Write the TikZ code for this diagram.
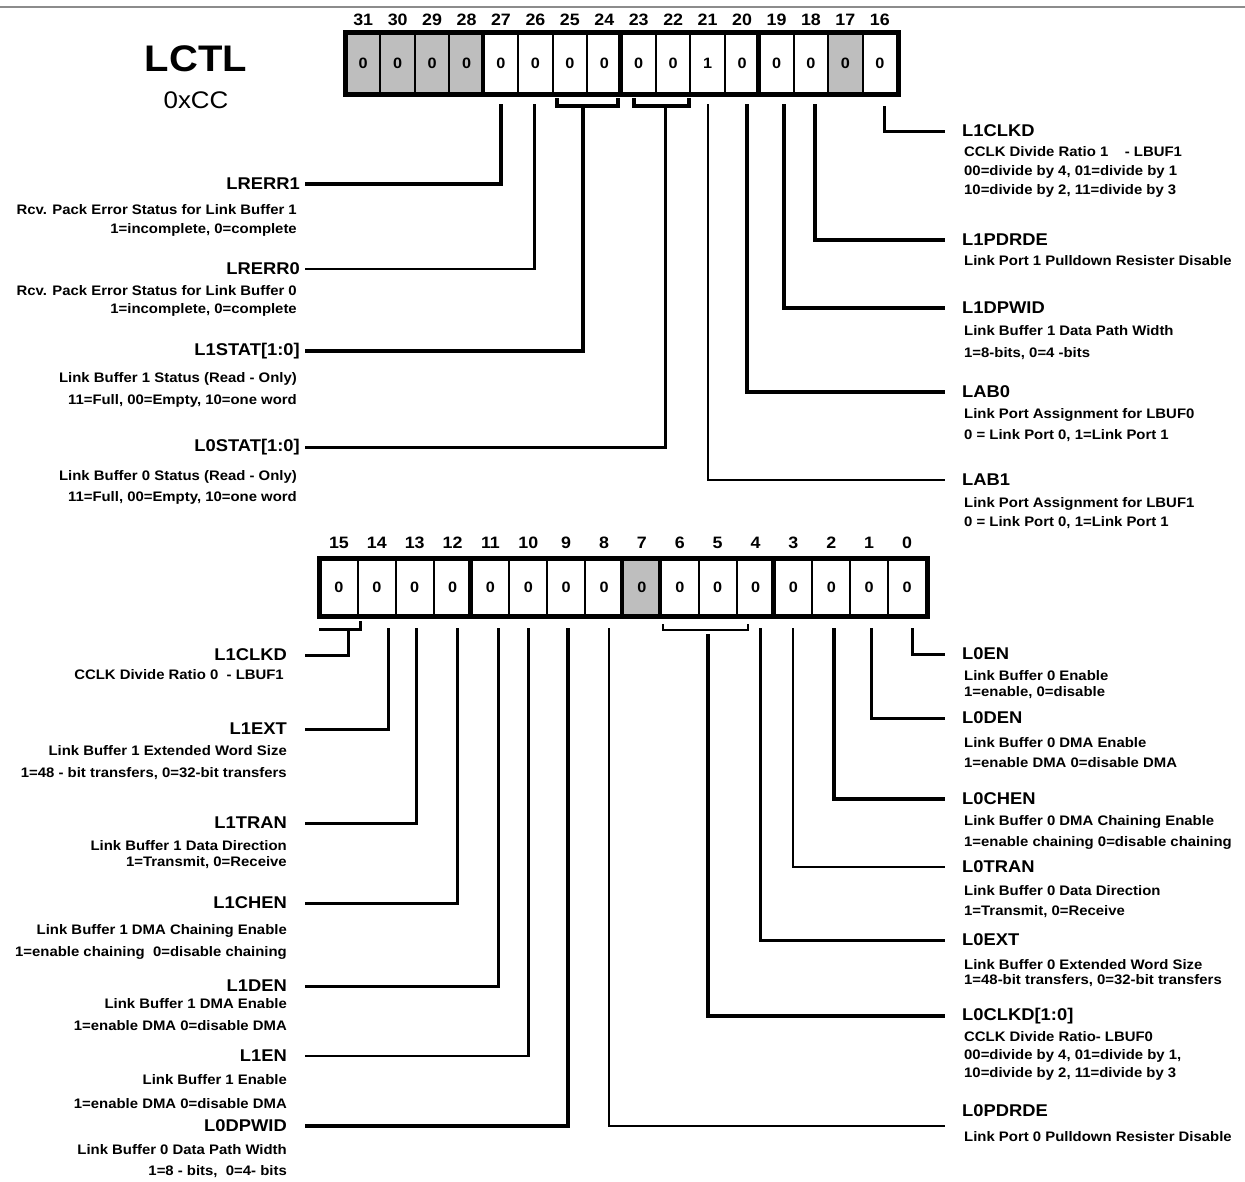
\documentclass[tikz,border=0pt]{standalone}
\usepackage{fontspec}
\setmainfont[FakeStretch=1.08]{Liberation Sans}
\definecolor{cellgray}{RGB}{190,190,190}
\definecolor{rulegray}{RGB}{140,140,140}
\tikzset{
  bitcell/.style={draw, line width=2pt, inner sep=0pt, font=\fontsize{15}{15}\selectfont\bfseries},
  bitnum/.style={inner sep=0pt, font=\fontsize{16.5}{16.5}\selectfont\bfseries},
  regframe/.style={line width=5pt},
  groupline/.style={line width=4.5pt},
  fieldL/.style={anchor=east, inner xsep=#1, inner ysep=0pt, font=\fontsize{17}{17}\selectfont\bfseries},
  fieldL/.default=5pt,
  fieldR/.style={anchor=west, inner xsep=17pt, inner ysep=0pt, font=\fontsize{17}{17}\selectfont\bfseries},
  descL/.style={anchor=north east, align=right, inner sep=0pt, font=\fontsize{13.8}{#1}\selectfont\bfseries},
  descL/.default=20pt,
  descR/.style={anchor=north west, align=left, inner sep=0pt, font=\fontsize{13.8}{#1}\selectfont\bfseries},
  descR/.default=20pt,
  wire/.style={line width=#1},
  wire/.default=2.5pt
}
\begin{document}
\begin{tikzpicture}[x=1pt, y=-1pt]
  \useasboundingbox (0,0) rectangle (1245,1181);
  % rule along the top edge
  \draw[rulegray, line width=1.5pt] (0,7) -- (1245,7);
  % register name
  \node[font=\fontsize{37}{37}\selectfont\bfseries] (lctl) at (196,59) {LCTL};
  \node[font=\fontsize{24}{24}\selectfont] (addr) at (196,100) {0xCC};

  % upper register, bits 31..16
  \foreach \b/\v/\f in {31/0/cellgray,30/0/cellgray,29/0/cellgray,28/0/cellgray,
      27/0/white,26/0/white,25/0/white,24/0/white,23/0/white,22/0/white,21/1/white,
      20/0/white,19/0/white,18/0/white,17/0/cellgray,16/0/white}{
    \node[bitcell, fill=\f, minimum width=34.44pt, minimum height=60pt]
      (t\b) at ({346+34.44*(31-\b)+17.22},63) {\v};
    \node[bitnum] (tn\b) at ({346+34.44*(31-\b)+17.22},20) {\b};
  }
  \foreach \g in {27,23,19}
    \draw[groupline] (t\g.north west) -- (t\g.south west);
  \draw[regframe] (t31.north west) rectangle (t16.south east);

  % lower register, bits 15..0
  \foreach \b/\f in {15/white,14/white,13/white,12/white,11/white,10/white,9/white,
      8/white,7/cellgray,6/white,5/white,4/white,3/white,2/white,1/white,0/white}{
    \node[bitcell, fill=\f, minimum width=37.875pt, minimum height=56pt]
      (b\b) at ({320+37.875*(15-\b)+18.94},587) {0};
    \node[bitnum] (bn\b) at ({320+37.875*(15-\b)+18.94},543) {\b};
  }
  \foreach \g in {11,7,6,3}
    \draw[groupline] (b\g.north west) -- (b\g.south west);
  \draw[regframe] (b15.north west) rectangle (b0.south east);

  % upper fields, left column
  \node[fieldL] (lrerr1) at (305,184) {LRERR1};
  \node[descL=19pt] (lrerr1d) at (297,204) {Rcv. Pack Error Status for Link Buffer 1\\1=incomplete, 0=complete};
  \node[fieldL] (lrerr0) at (305,269) {LRERR0};
  \node[descL=18pt] (lrerr0d) at (297,285) {Rcv. Pack Error Status for Link Buffer 0\\1=incomplete, 0=complete};
  \node[fieldL] (l1stat) at (305,351) {L1STAT[1:0]};
  \node[descL=22pt] (l1statd) at (297,372) {Link Buffer 1 Status (Read - Only)\\11=Full, 00=Empty, 10=one word};
  \node[fieldL] (l0stat) at (305,447) {L0STAT[1:0]};
  \node[descL=21pt] (l0statd) at (297,470) {Link Buffer 0 Status (Read - Only)\\11=Full, 00=Empty, 10=one word};

  % upper fields, right column
  \node[fieldR] (l1clkd) at (945,131) {L1CLKD};
  \node[descR=19pt] (l1clkdd) at (964,146) {CCLK Divide Ratio 1\ \ \ \ - LBUF1\\00=divide by 4, 01=divide by 1\\10=divide by 2, 11=divide by 3};
  \node[fieldR] (l1pdrde) at (945,240) {L1PDRDE};
  \node[descR] (l1pdrded) at (964,255) {Link Port 1 Pulldown Resister Disable};
  \node[fieldR] (l1dpwid) at (945,308) {L1DPWID};
  \node[descR=22pt] (l1dpwidd) at (964,325) {Link Buffer 1 Data Path Width\\1=8-bits,\ 0=4 -bits};
  \node[fieldR] (lab0) at (945,392) {LAB0};
  \node[descR=21pt] (lab0d) at (964,408) {Link Port Assignment for LBUF0\\0 = Link Port 0, 1=Link Port 1};
  \node[fieldR] (lab1) at (945,480) {LAB1};
  \node[descR=19pt] (lab1d) at (964,497) {Link Port Assignment for LBUF1\\0 = Link Port 0, 1=Link Port 1};

  % upper connectors
  \draw[wire=4pt, shorten <=10pt] (t27.south) |- (lrerr1);
  \draw[wire=2.5pt, shorten <=10pt] ([xshift=-1pt]t26.south) |- (lrerr0);
  \draw[wire=4pt] ([xshift=5pt,yshift=-4pt]t25.south west) -- ++(0,8) -| ([xshift=-5pt,yshift=-4pt]t24.south east);
  \draw[wire=4pt] ([xshift=-5pt,yshift=-12pt]t25.south east) |- (l1stat);
  \draw[wire=4pt] ([xshift=13pt,yshift=-4pt]t23.south west) -- ++(0,8) -| ([xshift=-2pt,yshift=-4pt]t22.south east);
  \draw[wire=3pt] ([xshift=9pt,yshift=-12pt]t23.south east) |- (l0stat);
  \draw[wire=2pt, shorten <=10pt] (t21.south) |- (lab1);
  \draw[wire=4pt, shorten <=10pt] ([xshift=5pt]t20.south) |- (lab0);
  \draw[wire=4pt, shorten <=10pt] ([xshift=7pt]t19.south) |- (l1dpwid);
  \draw[wire=4pt, shorten <=10pt] ([xshift=4pt]t18.south) |- (l1pdrde);
  \draw[wire=3pt, shorten <=12pt] ([xshift=5pt]t16.south) |- (l1clkd);

  % lower fields, left column
  \node[fieldL=18pt] (l1clkdb) at (305,655) {L1CLKD};
  \node[descL] (l1clkdbd) at (284,669) {CCLK Divide Ratio 0\ \ - LBUF1};
  \node[fieldL=18pt] (l1ext) at (305,729) {L1EXT};
  \node[descL=22pt] (l1extd) at (287,745) {Link Buffer 1 Extended Word Size\\1=48 - bit transfers, 0=32-bit transfers};
  \node[fieldL=18pt] (l1tran) at (305,823) {L1TRAN};
  \node[descL=16pt] (l1trand) at (287,840) {Link Buffer 1 Data Direction\\1=Transmit, 0=Receive};
  \node[fieldL=18pt] (l1chen) at (305,903) {L1CHEN};
  \node[descL=22pt] (l1chend) at (287,924) {Link Buffer 1 DMA Chaining Enable\\1=enable chaining\ \ 0=disable chaining};
  \node[fieldL=18pt] (l1den) at (305,986) {L1DEN};
  \node[descL=22pt] (l1dend) at (287,998) {Link Buffer 1 DMA Enable\\1=enable DMA 0=disable DMA};
  \node[fieldL=18pt] (l1en) at (305,1056) {L1EN};
  \node[descL=24pt] (l1end) at (287,1074) {Link Buffer 1 Enable\\1=enable DMA 0=disable DMA};
  \node[fieldL=18pt] (l0dpwid) at (305,1126) {L0DPWID};
  \node[descL=21pt] (l0dpwidd) at (287,1144) {Link Buffer 0 Data Path Width\\1=8 - bits,\ \ 0=4- bits};

  % lower fields, right column
  \node[fieldR] (l0en) at (945,654) {L0EN};
  \node[descR=16pt] (l0end) at (964,670) {Link Buffer 0 Enable\\1=enable, 0=disable};
  \node[fieldR] (l0den) at (945,718) {L0DEN};
  \node[descR=20pt] (l0dend) at (964,737) {Link Buffer 0 DMA Enable\\1=enable DMA 0=disable DMA};
  \node[fieldR] (l0chen) at (945,799) {L0CHEN};
  \node[descR=21pt] (l0chend) at (964,815) {Link Buffer 0 DMA Chaining Enable\\1=enable chaining 0=disable chaining};
  \node[fieldR] (l0tran) at (945,867) {L0TRAN};
  \node[descR=20pt] (l0trand) at (964,885) {Link Buffer 0 Data Direction\\1=Transmit, 0=Receive};
  \node[fieldR] (l0ext) at (945,940) {L0EXT};
  \node[descR=15pt] (l0extd) at (964,959) {Link Buffer 0 Extended Word Size\\1=48-bit transfers, 0=32-bit transfers};
  \node[fieldR] (l0clkd) at (945,1016) {L0CLKD[1:0]};
  \node[descR=18pt] (l0clkdd) at (964,1031) {CCLK Divide Ratio- LBUF0\\00=divide by 4, 01=divide by 1,\\10=divide by 2, 11=divide by 3};
  \node[fieldR] (l0pdrde) at (945,1111) {L0PDRDE};
  \node[descR] (l0pdrded) at (964,1131) {Link Port 0 Pulldown Resister Disable};

  % lower connectors
  \draw[wire=3pt] ([yshift=-13pt]b15.south west) -- ([xshift=4pt,yshift=-13pt]b14.south west) -- ([xshift=4pt,yshift=-5pt]b14.south west);
  \draw[wire=3pt] ([xshift=-10pt,yshift=-13pt]b15.south east) |- (l1clkdb);
  \draw[wire=3pt, shorten <=12pt] ([xshift=12pt]b14.south) |- (l1ext);
  \draw[wire=3pt, shorten <=12pt] ([xshift=2pt]b13.south) |- (l1tran);
  \draw[wire=3pt, shorten <=12pt] ([xshift=5pt]b12.south) |- (l1chen);
  \draw[wire=3pt, shorten <=12pt] ([xshift=8pt]b11.south) |- (l1den);
  \draw[wire=2.5pt, shorten <=12pt] (b10.south) |- (l1en);
  \draw[wire=4pt, shorten <=12pt] ([xshift=2pt]b9.south) |- (l0dpwid);
  \draw[wire=2.5pt, shorten <=12pt] ([xshift=5pt]b8.south) |- ([yshift=-15pt]l0pdrde.west);
  \draw[wire=2pt] ([xshift=3pt,yshift=-8pt]b6.south west) -- ++(0,6) -| ([xshift=10pt,yshift=-8pt]b5.south east);
  \draw[wire=4pt] ([xshift=8pt,yshift=-18pt]b6.south east) |- (l0clkd);
  \draw[wire=3pt, shorten <=12pt] ([xshift=5pt]b4.south) |- (l0ext);
  \draw[wire=2pt, shorten <=12pt] (b3.south) |- (l0tran);
  \draw[wire=4pt, shorten <=12pt] ([xshift=3pt]b2.south) |- (l0chen);
  \draw[wire=3pt, shorten <=12pt] ([xshift=2pt]b1.south) |- (l0den);
  \draw[wire=3pt, shorten <=12pt] ([xshift=5pt]b0.south) |- (l0en);
\end{tikzpicture}
\end{document}
